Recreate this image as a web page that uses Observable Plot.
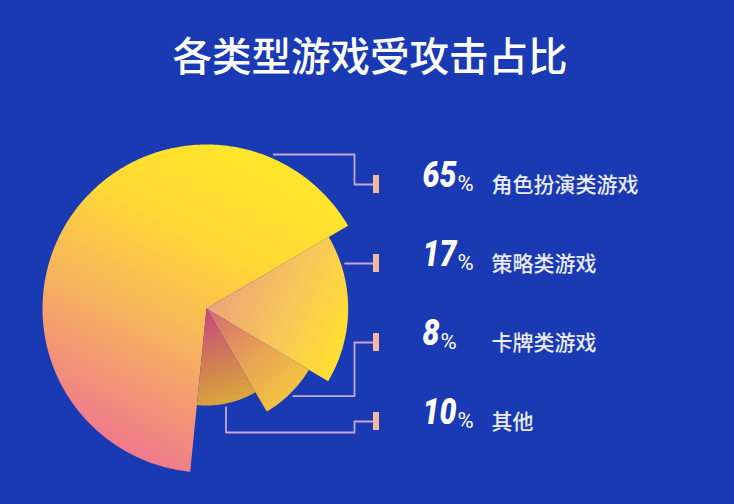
<!DOCTYPE html>
<html>
<head>
<meta charset="utf-8">
<script src="https://cdn.jsdelivr.net/npm/d3@7"></script>
<script src="https://cdn.jsdelivr.net/npm/@observablehq/plot@0.6"></script>
<style>
  html, body { margin: 0; padding: 0; background: #1a3ab4; }
  #wrap { width: 734px; height: 504px; overflow: hidden; background: #1a3ab4; }
  #title { height: 100px; line-height: 108px; text-align: center; color: #ffffff;
    font-family: "Noto Sans CJK SC", sans-serif; font-size: 39.5px; font-weight: 500; padding-left: 6px; box-sizing: border-box; }
</style>
</head>
<body>
<div id="wrap">
  <div id="title">各类型游戏受攻击占比</div>
  <div id="chart"></div>
</div>
<script>
// ---- data ----
const categories = ["角色扮演类游戏", "策略类游戏", "卡牌类游戏", "其他"];
const shares = [65, 17, 8, 10];
const shareLabels = ["65", "17", "8", "10"];

// ---- layout ----
const W = 734, H = 404;
const cx = 206, cy = 208;
const startAngle = 185.7;               // degrees clockwise from north
const radius = d3.scaleLinear().domain([0, categories.length - 1]).range([164, 97]);
const rowY = d3.scaleLinear().domain([0, 1]).range([84, 163]);  // row centres
const capX = 373, capW = 6, elbowX = 354, labelX = 422, catX = 491;
const numSize = 36, signSize = 22, numScaleX = 0.84;

const total = d3.sum(shares);
let acc = 0;
const sectors = shares.map((v, i) => {
  const a0 = startAngle + acc / total * 360;
  acc += v;
  const a1 = startAngle + acc / total * 360;
  return {i, v, a0, a1, r: radius(i), mid: (a0 + a1) / 2};
});
const pt = (a, r) => {
  const t = a * Math.PI / 180;
  return {x: cx + r * Math.sin(t), y: cy - r * Math.cos(t)};
};
const polys = sectors.map(s => {
  const pts = [{x: cx, y: cy}];
  const n = Math.ceil((s.a1 - s.a0) / 0.5);
  for (let k = 0; k <= n; ++k) pts.push(pt(s.a0 + (s.a1 - s.a0) * k / n, s.r));
  return pts;
});

// leader lines
const leaders = [];
{
  const y0 = rowY(0) - 30;
  const dx0 = Math.sqrt((sectors[0].r + 4) ** 2 - (cy - y0) ** 2);
  [[cx + dx0, y0], [elbowX, y0], [elbowX, rowY(0)], [capX, rowY(0)]].forEach(p => leaders.push({k: 0, x: p[0], y: p[1]}));
  const y1 = rowY(1);
  const dx1 = Math.sqrt((sectors[1].r + 4) ** 2 - (cy - y1) ** 2);
  [[cx + dx1, y1], [capX, y1]].forEach(p => leaders.push({k: 1, x: p[0], y: p[1]}));
  const p2 = pt(sectors[2].mid, sectors[2].r + 4);
  [[p2.x, p2.y], [elbowX, p2.y], [elbowX, rowY(2)], [capX, rowY(2)]].forEach(p => leaders.push({k: 2, x: p[0], y: p[1]}));
  const p3 = pt(sectors[3].mid, sectors[3].r + 4);
  const yb = rowY(3) + 11;
  [[p3.x - 2, p3.y], [p3.x - 2, yb], [elbowX, yb], [elbowX, rowY(3)], [capX, rowY(3)]].forEach(p => leaders.push({k: 3, x: p[0], y: p[1]}));
}
const rows = categories.map((c, i) => ({i, c, pct: shareLabels[i], y: rowY(i)}));

const gradients = [
  {x1: 0.78, y1: 0.05, x2: 0.32, y2: 1, stops: [[0, "#ffe62a"], [0.3, "#ffd936"], [0.6, "#f7b45e"], [1, "#ee7590"]]},
  {x1: 0, y1: 0.35, x2: 1, y2: 0.75, stops: [[0, "#eba07e"], [0.55, "#f8c75a"], [1, "#ffe12e"]]},
  {x1: 0, y1: 0, x2: 0.9, y2: 1, stops: [[0, "#d56a74"], [0.5, "#e8a454"], [1, "#f8cf3c"]]},
  {x1: 0.3, y1: 0, x2: 0.5, y2: 1, stops: [[0, "#c8487e"], [0.5, "#cf7a57"], [1, "#dca83a"]]}
];

const defsMark = () => {
  const defs = d3.create("svg:defs");
  gradients.forEach((g, i) => {
    const lg = defs.append("linearGradient").attr("id", "grad" + i)
      .attr("x1", g.x1).attr("y1", g.y1).attr("x2", g.x2).attr("y2", g.y2);
    g.stops.forEach(s => lg.append("stop").attr("offset", s[0]).attr("stop-color", s[1]));
  });
  return defs.node();
};

const plot = Plot.plot({
  width: W, height: H,
  margin: 0,
  style: {background: "transparent", overflow: "visible"},
  x: {domain: [0, W], range: [0, W], axis: null},
  y: {domain: [0, H], range: [0, H], axis: null},
  marks: [
    defsMark,
    ...polys.map((p, i) => Plot.line(p, {x: "x", y: "y", fill: `url(#grad${i})`, stroke: "none", curve: "linear-closed"})),
    Plot.line(leaders, {x: "x", y: "y", z: "k", stroke: "#c6a6d8", strokeWidth: 1.8, fill: "none"}),
    Plot.rect(rows, {x1: capX, x2: capX + capW, y1: d => d.y - 9, y2: d => d.y + 9, fill: "#f3b9a2"}),
    Plot.text(rows, {x: labelX, y: d => d.y + 2.5, text: "pct", textAnchor: "start", fill: "#ffffff",
      fontSize: numSize, fontWeight: 900, fontStyle: "italic", fontFamily: "Roboto, 'DejaVu Sans', sans-serif", className: "num"}),
    Plot.text(rows, {x: labelX, y: d => d.y + 2.5 + 0.32 * (numSize - signSize), text: () => "%", textAnchor: "start", fill: "#ffffff",
      fontSize: signSize, fontWeight: 400, fontFamily: "Roboto, 'DejaVu Sans', sans-serif", className: "pctsign"}),
    Plot.text(rows, {x: catX, y: d => d.y + 1, text: "c", textAnchor: "start", fill: "#e9ebf8",
      fontSize: 21, fontFamily: "'Noto Sans CJK SC', sans-serif", fontWeight: 500})
  ]
});

document.getElementById("chart").appendChild(plot);

// condense the numbers and put the "%" right after them
const reposition = (t, extra) => {
  const x = +t.getAttribute("x") || 0, y = +t.getAttribute("y") || 0;
  const tr = t.getAttribute("transform") || "";
  t.removeAttribute("x"); t.removeAttribute("y");
  t.setAttribute("transform", `${tr} translate(${x},${y}) ${extra}`);
};
const nums = plot.querySelectorAll(".num text");
const signs = plot.querySelectorAll(".pctsign text");
nums.forEach((t, i) => {
  const w = t.getComputedTextLength() * numScaleX;
  reposition(t, `scale(${numScaleX},1)`);
  if (signs[i]) reposition(signs[i], `translate(${w + 1},0)`);
});
</script>
</body>
</html>
